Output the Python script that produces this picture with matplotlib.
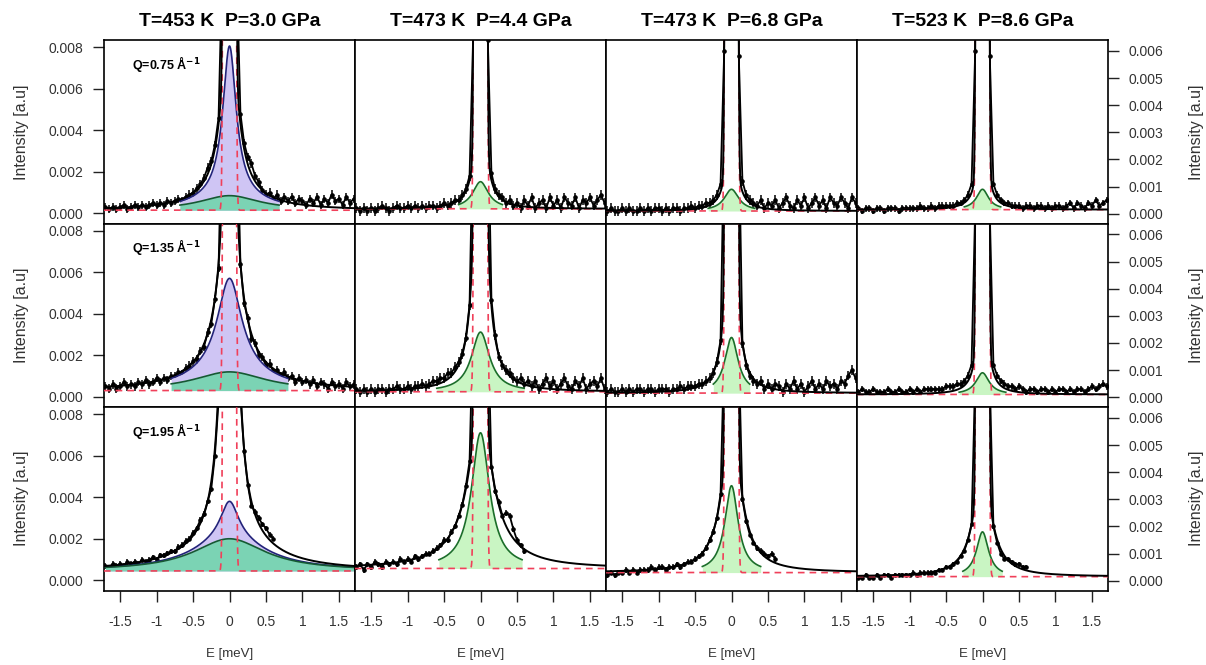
import numpy as np
import matplotlib.pyplot as plt

plt.rcParams['font.family'] = ['Liberation Sans', 'DejaVu Sans']

# column headers and Q values
titles = ["T=453 K  P=3.0 GPa", "T=473 K  P=4.4 GPa", "T=473 K  P=6.8 GPa", "T=523 K  P=8.6 GPa"]
q_values = ["0.75", "1.35", "1.95"]

# energy grid of the measured points (meV); bottom row stops at 0.60
energy = np.linspace(-1.70, 1.70, 69)

# measured intensities, units of 1e-4 (rows Q=0.75, 1.35, 1.95)
i_453_q075 = [3, 2, 3, 2, 3, 4, 2, 3, 4, 3,
              4, 3, 4, 5, 4, 5, 4, 6, 5, 6,
              7, 6, 8, 9, 10, 12, 14, 17, 22, 25,
              33, 46, 118, 600, 1100, 600, 115, 48, 34, 27,
              24, 18, 15, 11, 9, 10, 7, 9, 6, 8,
              6, 8, 5, 7, 6, 4, 7, 5, 8, 4,
              7, 5, 9, 6, 7, 4, 8, 5, 7]
i_453_q135 = [5, 4, 6, 4, 5, 7, 5, 6, 5, 7,
              6, 8, 6, 7, 9, 7, 9, 8, 10, 10,
              12, 11, 14, 15, 17, 18, 22, 24, 31, 35,
              47, 62, 140, 600, 1100, 600, 136, 64, 45, 38,
              28, 26, 20, 19, 15, 16, 12, 13, 10, 12,
              9, 10, 7, 9, 7, 8, 6, 8, 5, 7,
              6, 4, 7, 5, 6, 4, 7, 5, 6]
i_453_q195 = [7, 6, 8, 7, 8, 7, 9, 8, 9, 8,
              10, 9, 10, 11, 10, 12, 12, 13, 14, 14,
              16, 17, 19, 20, 23, 25, 29, 32, 38, 44,
              60, 86, 170, 600, 1100, 600, 168, 88, 62, 46,
              36, 33, 30, 27, 25, 22, 20]

i_473a_q075 = [2, 1, 2, 1, 2, 1, 2, 3, 2, 1,
               2, 3, 2, 2, 3, 2, 3, 2, 3, 2,
               3, 3, 2, 3, 4, 3, 4, 5, 5, 7,
               9, 14, 66, 600, 1100, 600, 64, 15, 9, 7,
               6, 4, 5, 3, 4, 2, 5, 3, 6, 2,
               4, 5, 2, 6, 3, 5, 2, 6, 4, 3,
               6, 2, 5, 4, 6, 3, 5, 7, 4]
i_473a_q135 = [3, 2, 3, 2, 3, 2, 3, 3, 2, 3,
               3, 4, 3, 3, 4, 3, 4, 4, 5, 4,
               5, 6, 6, 7, 7, 9, 9, 11, 13, 16,
               22, 34, 105, 600, 1100, 600, 108, 36, 23, 15,
               12, 10, 9, 7, 6, 7, 5, 6, 4, 6,
               3, 5, 7, 4, 6, 3, 5, 7, 4, 3,
               6, 4, 7, 3, 5, 6, 4, 7, 3]
i_473a_q195 = [5, 6, 4, 6, 5, 7, 6, 5, 7, 6,
               7, 6, 8, 7, 8, 7, 9, 8, 9, 10,
               10, 11, 12, 13, 15, 15, 18, 20, 24, 28,
               35, 44, 98, 600, 1100, 600, 96, 42, 33, 29,
               24, 25, 24, 19, 15, 13, 11]

i_473b_q075 = [1, 2, 1, 1, 2, 1, 2, 1, 1, 2,
               1, 2, 1, 2, 2, 1, 2, 1, 2, 2,
               1, 2, 2, 3, 2, 3, 3, 4, 4, 5,
               7, 11, 60, 600, 1100, 600, 58, 12, 7, 5,
               4, 3, 5, 2, 4, 3, 5, 2, 4, 6,
               3, 2, 5, 3, 6, 2, 4, 6, 3, 5,
               2, 6, 4, 3, 6, 4, 2, 6, 4]
i_473b_q135 = [2, 3, 2, 2, 3, 2, 3, 2, 3, 3,
               2, 3, 3, 2, 3, 3, 3, 2, 3, 3,
               4, 3, 4, 4, 4, 5, 5, 6, 7, 9,
               13, 21, 100, 600, 1100, 600, 98, 20, 12, 8,
               6, 5, 6, 3, 5, 3, 5, 4, 2, 5,
               3, 6, 3, 5, 2, 4, 6, 3, 5, 3,
               6, 4, 5, 3, 6, 5, 8, 10, 7]
i_473b_q195 = [2, 3, 2, 3, 3, 4, 3, 4, 3, 4,
               4, 4, 5, 4, 5, 5, 4, 5, 5, 6,
               5, 6, 7, 7, 8, 9, 10, 12, 15, 18,
               23, 32, 86, 600, 1100, 600, 84, 30, 22, 17,
               14, 12, 11, 10, 9, 10, 8]

i_523_q075 = [2, 1, 2, 2, 1, 2, 2, 1, 2, 2,
              2, 1, 2, 2, 2, 2, 2, 3, 2, 2,
              3, 2, 3, 3, 3, 3, 3, 4, 4, 5,
              7, 11, 60, 600, 1100, 600, 58, 11, 7, 5,
              4, 4, 3, 3, 3, 2, 3, 3, 2, 3,
              3, 2, 3, 2, 3, 3, 2, 3, 4, 2,
              4, 3, 2, 4, 3, 5, 3, 4, 5]
i_523_q135 = [2, 3, 2, 2, 3, 2, 2, 2, 3, 2,
              2, 3, 2, 2, 3, 2, 3, 2, 3, 3,
              3, 3, 3, 3, 4, 4, 4, 5, 5, 6,
              8, 12, 70, 600, 1100, 600, 68, 12, 8, 6,
              5, 4, 4, 3, 4, 3, 2, 3, 3, 2,
              3, 3, 2, 3, 2, 3, 3, 2, 3, 2,
              3, 3, 2, 3, 4, 3, 4, 5, 4]
i_523_q195 = [1, 1, 2, 1, 1, 2, 1, 2, 2, 1,
              2, 2, 2, 2, 2, 3, 2, 3, 3, 3,
              3, 3, 4, 4, 5, 5, 6, 7, 9, 11,
              15, 21, 75, 600, 1100, 600, 73, 20, 14, 10,
              8, 8, 7, 6, 6, 5, 5]

intensity = [[i_453_q075, i_473a_q075, i_473b_q075, i_523_q075],
             [i_453_q135, i_473a_q135, i_473b_q135, i_523_q135],
             [i_453_q195, i_473a_q195, i_473b_q195, i_523_q195]]
errors = [[2.0, 1.8, 1.8, 1.2], [2.0, 1.8, 1.8, 1.2], [1.3, 1.0, 1.0, 0.8]]

# fitted components (units 1e-4, widths in meV)
base = [[1.5, 1.8, 1.0, 1.5], [3.0, 2.0, 1.5, 1.0], [4.5, 4.5, 3.0, 1.5]]
green_amp = [[7, 10, 8, 7.5], [9, 22, 20.5, 8], [15.5, 50, 32, 16.5]]
green_hw = [[0.5, 0.13, 0.12, 0.10], [0.6, 0.15, 0.11, 0.11], [0.6, 0.15, 0.11, 0.10]]
purple_amp = [72, 45, 18]
purple_hw = [0.11, 0.20, 0.15]
extra_amp = [[23, 94, 60, 60], [360, 312, 172, 80], [1000, 14.6, 26.4, 25]]
extra_hw = [[0.13, 0.04, 0.04, 0.04], [0.04, 0.04, 0.04, 0.04], [0.04, 0.38, 0.195, 0.17]]
elastic_amp = 1e5
elastic_sigma = 0.026
fill_span = [[0.68, 0.30, 0.32, 0.25], [0.80, 0.60, 0.25, 0.32], [1.70, 0.57, 0.40, 0.27]]


def lorentz(e, amp, hw):
    return amp * hw**2 / (hw**2 + e**2)


W, H = 1206.0, 665.0
col_left = [104, 355, 606, 857]
row_top = [40, 223.5, 407]
pw, ph = 251, 183.5

fig = plt.figure(figsize=(W / 100, H / 100), dpi=100)
ef = np.linspace(-1.8, 1.8, 4001)

for r in range(3):
    for c in range(4):
        ax = fig.add_axes([col_left[c] / W, 1 - (row_top[r] + ph) / H, pw / W, ph / H])
        sc = 1e-4
        b = base[r][c]
        gr = lorentz(ef, green_amp[r][c], green_hw[r][c])
        ex = lorentz(ef, extra_amp[r][c], extra_hw[r][c])
        el = elastic_amp * np.exp(-ef**2 / (2 * elastic_sigma**2))
        total = b + gr + ex + el
        inside = np.abs(ef) <= fill_span[r][c]

        # measured points
        y = np.array(intensity[r][c]) * sc
        e = energy[:len(y)]
        ax.errorbar(e, y, yerr=errors[r][c] * sc, fmt='o-', color='black', ms=2.3,
                    lw=1.3, elinewidth=1.1, capsize=0, zorder=2)

        if c == 0:
            pu = lorentz(ef, purple_amp[r], purple_hw[r])
            total = total + pu
            ax.fill_between(ef, b * sc, (b + gr + pu) * sc, where=inside,
                            color='#cfc5f4', lw=0, zorder=3)
            ax.fill_between(ef, b * sc, (b + gr) * sc, where=inside,
                            color='#7bd3b4', lw=0, zorder=4)
            ax.plot(ef[inside], (b + gr + pu)[inside] * sc, color='#23237a', lw=1.2, zorder=5)
            ax.plot(ef[inside], (b + gr)[inside] * sc, color='#145a32', lw=1.2, zorder=5)
            ax.set_ylim(-0.00049, 0.00834)
        else:
            ax.fill_between(ef, b * sc, (b + gr) * sc, where=inside,
                            color='#c9f5c3', lw=0, zorder=3)
            ax.plot(ef[inside], (b + gr)[inside] * sc, color='#1b6e2a', lw=1.2, zorder=5)
            ax.set_ylim(-0.00036, 0.0064)

        ax.plot(ef, (b + el) * sc, color='#f0405a', lw=1.2, ls=(0, (4, 3)), zorder=6)
        ax.plot(ef, total * sc, color='black', lw=1.4, zorder=7)

        ax.set_xlim(-1.72, 1.72)
        for sp in ax.spines.values():
            sp.set_linewidth(1.2)

        ax.tick_params(axis='both', direction='out', length=8, width=1, colors='#222222',
                       labelsize=10, labelcolor='#333333', pad=7)
        ax.set_xticks([-1.5, -1, -0.5, 0, 0.5, 1, 1.5])
        if r == 2:
            ax.set_xticklabels(["-1.5", "-1", "-0.5", "0", "0.5", "1", "1.5"], fontsize=10)
            ax.tick_params(axis='x', length=8, pad=10)
            ax.set_xlabel("E [meV]", fontsize=9.5, labelpad=13, color='#333333')
        else:
            ax.tick_params(axis='x', bottom=False, labelbottom=False)

        if c == 0:
            ax.set_yticks([0, 0.002, 0.004, 0.006, 0.008])
            ax.set_yticklabels(["0.000", "0.002", "0.004", "0.006", "0.008"])
            ax.set_ylabel("Intensity [a.u]", fontsize=11.5, color='#333333', labelpad=14)
            ax.text(0.11, 0.87, "Q=" + q_values[r] + r" Å$^{\mathbf{-1}}$", transform=ax.transAxes,
                    fontsize=9, fontweight='bold', va='center', ha='left')
        elif c == 3:
            ax.yaxis.tick_right()
            ax.yaxis.set_label_position('right')
            ax.set_yticks([0, 0.001, 0.002, 0.003, 0.004, 0.005, 0.006])
            ax.set_yticklabels(["0.000", "0.001", "0.002", "0.003", "0.004", "0.005", "0.006"])
            ax.set_ylabel("Intensity [a.u]", fontsize=11.5, color='#333333', labelpad=18)
        else:
            ax.tick_params(axis='y', left=False, labelleft=False)

        if r == 0:
            ax.set_title(titles[c], fontsize=14, fontweight='bold', pad=10)

fig.savefig("out.png", dpi=100)
